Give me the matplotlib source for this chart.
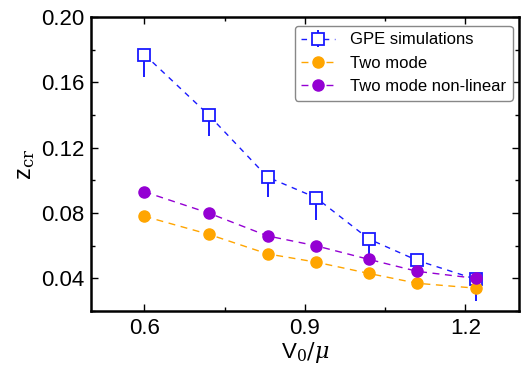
import matplotlib
matplotlib.use("Agg")
import matplotlib.pyplot as plt
from matplotlib.ticker import MultipleLocator

V0_MU = [0.60, 0.72, 0.83, 0.92, 1.02, 1.11, 1.22]
GPE = [0.177, 0.140, 0.102, 0.0895, 0.064, 0.051, 0.0394]
GPE_ERR_LOW = [0.014, 0.013, 0.012, 0.0135, 0.0095, 0.004, 0.013]
TWO_MODE = [0.078, 0.067, 0.055, 0.050, 0.043, 0.037, 0.034]
TWO_MODE_NL = [0.093, 0.080, 0.066, 0.060, 0.0516, 0.0443, 0.040]

BLUE = "#1a1aff"
ORANGE = "#ffa500"
PURPLE = "#9400d3"

plt.rcParams.update({
    "font.family": ["Liberation Sans", "DejaVu Sans"],
    "mathtext.fontset": "dejavuserif",
    "font.size": 13,
})

fig = plt.figure(figsize=(5.29, 3.69), dpi=100)
ax = fig.add_axes([0.172, 0.157, 0.809, 0.797])

gpe = ax.errorbar(V0_MU, GPE, yerr=[GPE_ERR_LOW, [0] * len(GPE)], color=BLUE, ls=(0, (4, 4)), lw=1.0,
                  marker="s", ms=8.5, mfc="white", mec=BLUE, mew=1.3, elinewidth=1.4, capsize=0,
                  label="GPE simulations", zorder=3)
tm, = ax.plot(V0_MU, TWO_MODE, color=ORANGE, ls=(0, (5, 4)), lw=1.0, marker="o", ms=8,
              label="Two mode", zorder=4)
tmnl, = ax.plot(V0_MU, TWO_MODE_NL, color=PURPLE, ls=(0, (5, 4)), lw=1.0, marker="o", ms=8,
                label="Two mode non-linear", zorder=4)

ax.set_xlim(0.5, 1.3)
ax.set_ylim(0.02, 0.20)
ax.xaxis.set_minor_locator(MultipleLocator(0.15))
ax.yaxis.set_minor_locator(MultipleLocator(0.02))
ax.set_xticks([0.6, 0.9, 1.2], ["0.6", "0.9", "1.2"])
ax.set_yticks([0.04, 0.08, 0.12, 0.16, 0.20], ["0.04", "0.08", "0.12", "0.16", "0.20"])
ax.tick_params(which="both", direction="in", top=True, right=True, width=1.0)
ax.tick_params(which="major", length=5, labelsize=16, pad=5)
ax.tick_params(which="minor", length=3)
for s in ax.spines.values():
    s.set_linewidth(1.8)

ax.set_xlabel(r"V$_0/\mu$", fontsize=16, labelpad=1)
ax.set_ylabel(r"z$_{\rm cr}$", fontsize=17, labelpad=3)

ax.legend([gpe, tm, tmnl], ["GPE simulations", "Two mode", "Two mode non-linear"],
          loc="upper right", fontsize=12, handlelength=2.0, borderpad=0.4,
          labelspacing=0.5, handletextpad=0.9, fancybox=True, edgecolor="#888888",
          framealpha=1, borderaxespad=0, bbox_to_anchor=(0.985, 0.97))

fig.savefig("out.png", dpi=100)
